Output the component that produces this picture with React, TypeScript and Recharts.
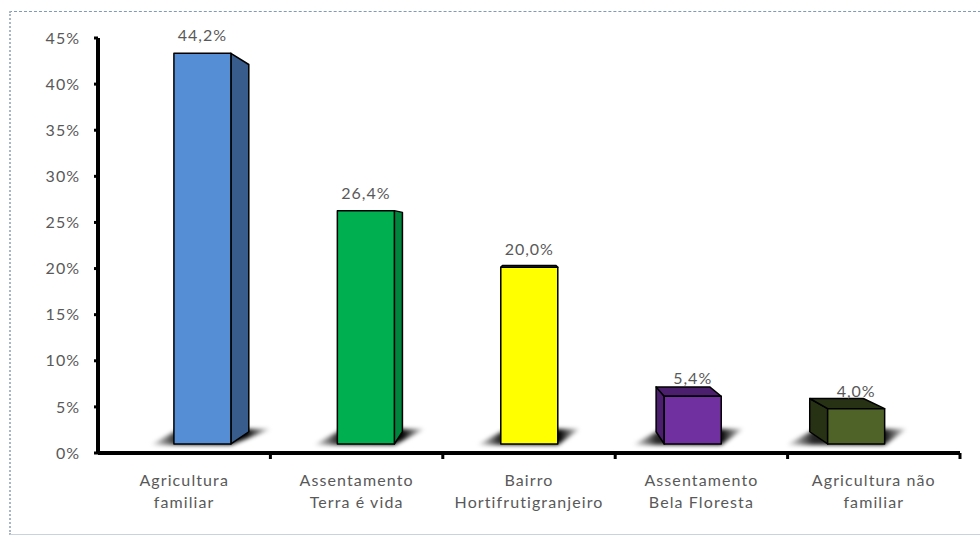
import { BarChart, Bar, XAxis, YAxis } from 'recharts'

// categories (two lines each) and shares in %
const categories = [
  'Agricultura\nfamiliar',
  'Assentamento\nTerra é vida',
  'Bairro\nHortifrutigranjeiro',
  'Assentamento\nBela Floresta',
  'Agricultura não\nfamiliar',
]
const shares = [44.2, 26.4, 20.0, 5.4, 4.0]
const yTicks = [0, 5, 10, 15, 20, 25, 30, 35, 40, 45]

const frontColors = ['#558ED5', '#00B050', '#FFFF00', '#7030A0', '#4F6228']
const sideColors  = ['#385C8B', '#00853C', '#C2C200', '#4C1F6E', '#273214']

const data = categories.map((name, i) => ({ name, value: shares[i] }))

const W = 980
const H = 537
const LEFT = 98
const RIGHT = 20
const TOP = 38
const BOTTOM = 84
const PLOT_W = W - LEFT - RIGHT
const PLOT_BOTTOM = H - BOTTOM
const BAND = PLOT_W / categories.length

// fake perspective
const VP_X = LEFT + PLOT_W / 2
const VP_Y = 240
const K = 0.06
const SHIFT = 0.052

const FONT = 'Lato, "Open Sans", sans-serif'
const GRAY = '#595959'

const fmt = (v: number) => v.toFixed(1).replace('.', ',') + '%'

const Box = (props: any) => {
  const { x, y, width, height, index, value } = props
  const fl = x + SHIFT * (VP_X - (x + width / 2))
  const fr = fl + width
  const ft = y
  const fb = y + height
  const bx = (px: number) => px + K * (VP_X - px)
  const by = (py: number) => py + K * (VP_Y - py)
  const pts = (a: number[][]) => a.map(p => p.join(',')).join(' ')
  const front = frontColors[index]
  const side = sideColors[index]

  const left = Math.min(fl, bx(fl)) - 24
  const right = Math.max(fr, bx(fr)) + 22
  const gid = `shgrad-${index}`
  const fid = `shblur-${index}`

  return (
    <g>
      <defs>
        <linearGradient id={gid} x1="0" y1="0" x2="1" y2="0">
          <stop offset="0%" stopColor="#000" stopOpacity={0} />
          <stop offset="22%" stopColor="#000" stopOpacity={0.85} />
          <stop offset="80%" stopColor="#000" stopOpacity={1} />
          <stop offset="100%" stopColor="#000" stopOpacity={0.1} />
        </linearGradient>
        <filter id={fid} x="-20%" y="-100%" width="140%" height="300%">
          <feGaussianBlur stdDeviation="2" />
        </filter>
      </defs>
      {/* shadow */}
      <polygon
        points={pts([[left, fb + 1], [fr, fb + 1], [right, fb - 15], [left + 30, fb - 15]])}
        fill={`url(#${gid})`}
        filter={`url(#${fid})`}
      />
      {/* sides */}
      {bx(fr) > fr + 0.5 && (
        <polygon
          points={pts([[fr, ft], [bx(fr), by(ft)], [bx(fr), by(fb)], [fr, fb]])}
          fill={side} stroke="#000" strokeWidth={1.5} strokeLinejoin="round"
        />
      )}
      {bx(fl) < fl - 0.5 && (
        <polygon
          points={pts([[fl, ft], [bx(fl), by(ft)], [bx(fl), by(fb)], [fl, fb]])}
          fill={side} stroke="#000" strokeWidth={1.5} strokeLinejoin="round"
        />
      )}
      {by(ft) < ft - 0.5 && (
        <polygon
          points={pts([[fl, ft], [fr, ft], [bx(fr), by(ft)], [bx(fl), by(ft)]])}
          fill={side} stroke="#000" strokeWidth={1.5} strokeLinejoin="round"
        />
      )}
      <rect x={fl} y={ft} width={width} height={height}
        fill={front} stroke="#000" strokeWidth={1.5} strokeLinejoin="round" />
      <text x={fl + width / 2} y={ft - 12} textAnchor="middle"
        fontFamily={FONT} fontSize={16} fill={GRAY} letterSpacing={1}>
        {fmt(value)}
      </text>
    </g>
  )
}

const CategoryTick = (props: any) => {
  const { x, payload } = props
  const lines = String(payload.value).split('\n')
  return (
    <g>
      <line x1={x + BAND / 2} x2={x + BAND / 2} y1={PLOT_BOTTOM} y2={PLOT_BOTTOM + 6}
        stroke="#000" strokeWidth={3} />
      {lines.map((l, i) => (
        <text key={i} x={x} y={PLOT_BOTTOM + 33 + i * 22} textAnchor="middle"
          fontFamily={FONT} fontSize={16} fill={GRAY} letterSpacing={1.1}>
          {l}
        </text>
      ))}
    </g>
  )
}

export default function App() {
  return (
    <div style={{ position: 'fixed', left: 0, top: 0, width: W, height: H, background: '#fff', overflow: 'hidden' }}>
      <div style={{
        position: 'absolute', left: 9, top: 11, width: 1000, height: 522,
        borderTop: '1px dashed #7f9bb8', borderLeft: '2px dotted #a9b6c6',
        borderBottom: '1px solid #c9d3de',
      }} />
      <div style={{ position: 'absolute', left: 0, top: 0 }}>
        <BarChart width={W} height={H} data={data}
          margin={{ top: TOP, right: RIGHT, bottom: 0, left: 0 }}>
          <XAxis dataKey="name" height={BOTTOM} interval={0}
            axisLine={{ stroke: '#000', strokeWidth: 4 }}
            tickLine={false} tick={<CategoryTick />} />
          <YAxis yAxisId="axis" type="number" width={LEFT} domain={[0, 45]} ticks={yTicks}
            allowDataOverflow
            tickFormatter={(v: number) => `${v}%`}
            axisLine={{ stroke: '#000', strokeWidth: 4 }}
            tickLine={{ stroke: '#000', strokeWidth: 3 }}
            tickSize={4} tickMargin={14}
            tick={{ fill: GRAY, fontSize: 16, fontFamily: FONT, letterSpacing: 1 }} />
          <YAxis yAxisId="bars" hide domain={[-1.02, 45.93]} />
          <Bar yAxisId="bars" dataKey="value" barSize={57} shape={Box}
            isAnimationActive={false} />
        </BarChart>
      </div>
    </div>
  )
}
